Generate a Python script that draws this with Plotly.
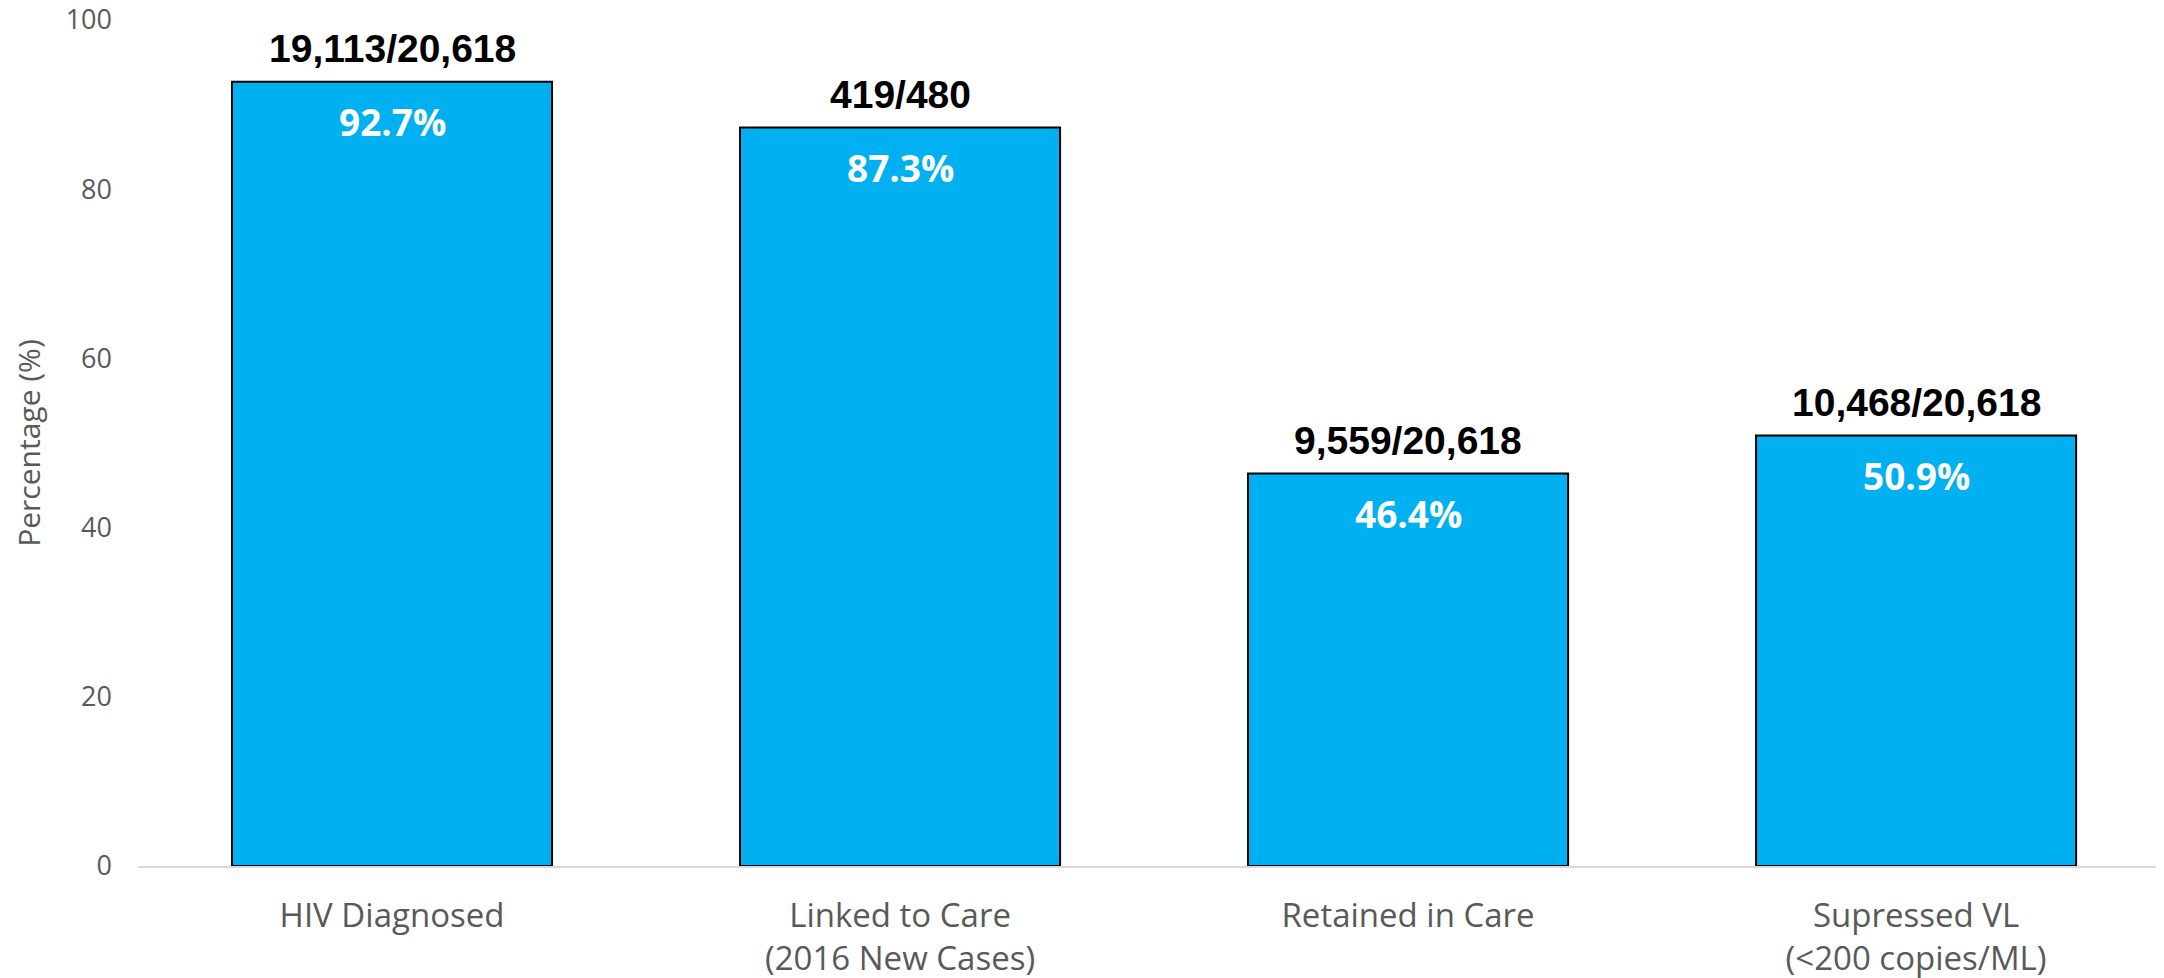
import plotly.graph_objects as go

categories = ["HIV Diagnosed", "Linked to Care<br>(2016 New Cases)", "Retained in Care",
              "Supressed VL<br>(<200 copies/ML)"]
percentages = [92.7, 87.3, 46.4, 50.9]
fractions = ["19,113/20,618", "419/480", "9,559/20,618", "10,468/20,618"]
y_ticks = [0, 20, 40, 60, 80, 100]

fig = go.Figure()
fig.add_trace(go.Bar(
    x=list(range(len(categories))),
    y=percentages,
    marker=dict(color="#00B0F0", line=dict(color="black", width=2)),
    width=0.63,
    hoverinfo="skip",
))

for i, (p, f) in enumerate(zip(percentages, fractions)):
    fig.add_annotation(x=i, y=p, text=f"<b>{f}</b>", showarrow=False, yshift=33,
                       font=dict(family="Liberation Sans", size=39, color="black"))
    fig.add_annotation(x=i, y=p, text=f"<b>{p:.1f}%</b>", showarrow=False, yshift=-40,
                       font=dict(family="Open Sans", size=37, color="white"))

fig.update_layout(
    width=2156, height=970,
    margin=dict(l=130, r=0, t=12, b=112, autoexpand=False),
    plot_bgcolor="white", paper_bgcolor="white",
    showlegend=False,
    font=dict(family="Open Sans", size=27, color="#595959"),
)
fig.update_xaxes(
    range=[-0.5, 3.488], automargin=False,
    tickmode="array", tickvals=list(range(len(categories))), ticktext=categories,
    showline=True, linecolor="#D9D9D9", linewidth=2,
    showgrid=False, zeroline=False, ticks="",
    ticklabelstandoff=19, ticklabeloverflow="allow",
    tickfont=dict(family="Open Sans", size=33, color="#595959"),
)
fig.update_yaxes(
    range=[0, 100], tickvals=y_ticks, automargin=False,
    showgrid=False, zeroline=False, showline=False, ticks="",
    ticklabelstandoff=25, ticklabeloverflow="allow",
    tickfont=dict(family="Open Sans", size=27, color="#595959"),
    title=dict(text="Percentage (%)", standoff=18,
               font=dict(family="Open Sans", size=30, color="#595959")),
)

fig.write_html("out.html")
